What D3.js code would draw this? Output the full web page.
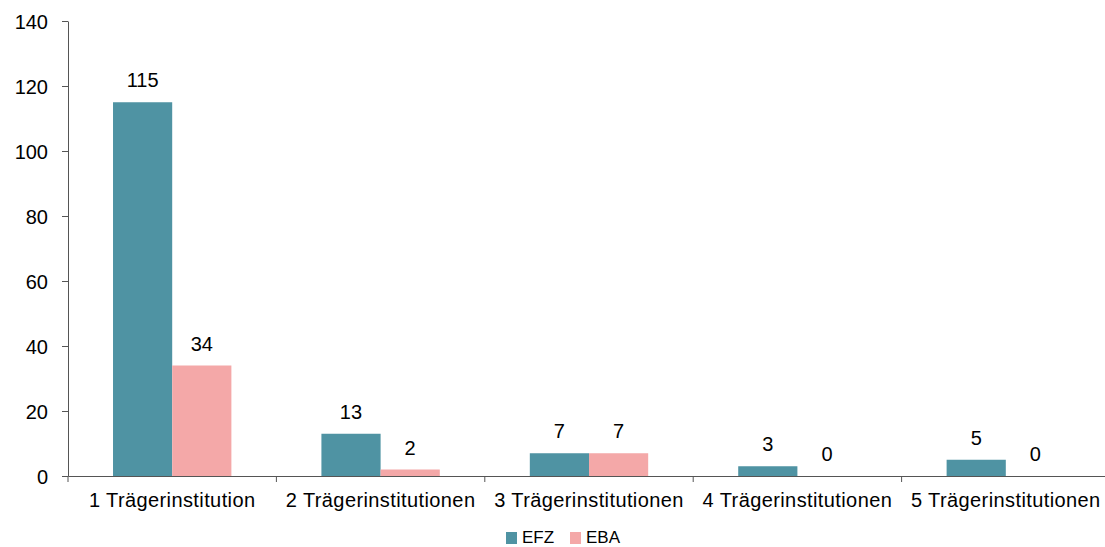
<!DOCTYPE html>
<html>
<head>
<meta charset="UTF-8" />
<script src="https://cdn.jsdelivr.net/npm/d3@7"></script>
<style>
  body { margin: 0; background: #fff; }
  text { font-family: "Liberation Sans", Arial, sans-serif; fill: #000; }
</style>
</head>
<body>
<div id="chart"></div>
<script>
const categories = ['1 Trägerinstitution', '2 Trägerinstitutionen', '3 Trägerinstitutionen', '4 Trägerinstitutionen', '5 Trägerinstitutionen'];
const seriesNames = ['EFZ', 'EBA'];
const efzValues = [115, 13, 7, 3, 5];
const ebaValues = [34, 2, 7, 0, 0];
const yTicks = [0, 20, 40, 60, 80, 100, 120, 140];
const colors = ['#4f93a3', '#f4a8a8'];

const w = 1105, h = 547;
const mLeft = 68, mRight = 1110, mTop = 21, mBottom = 476;

const svg = d3.select('#chart').append('svg')
  .attr('width', w).attr('height', h);

const x = d3.scaleBand().domain(categories).range([mLeft, mRight]).paddingInner(0).paddingOuter(0);
const xInner = d3.scaleBand().domain(seriesNames).range([x.bandwidth() * 0.216, x.bandwidth() * 0.784]);
const y = d3.scaleLinear().domain([0, 140]).range([mBottom, mTop]);

const rows = categories.map((c, i) => ({ cat: c, vals: [efzValues[i], ebaValues[i]] }));

// bars
const groups = svg.selectAll('g.cat').data(rows).enter().append('g')
  .attr('class', 'cat')
  .attr('transform', d => `translate(${x(d.cat)},0)`);

groups.selectAll('rect').data(d => d.vals.map((v, j) => ({ s: seriesNames[j], v, j })))
  .enter().append('rect')
  .attr('x', d => xInner(d.s))
  .attr('width', xInner.bandwidth())
  .attr('y', d => y(d.v))
  .attr('height', d => mBottom - y(d.v))
  .attr('fill', d => colors[d.j]);

groups.selectAll('text.val').data(d => d.vals.map((v, j) => ({ s: seriesNames[j], v })))
  .enter().append('text')
  .attr('class', 'val')
  .attr('x', d => xInner(d.s) + xInner.bandwidth() / 2)
  .attr('y', d => y(d.v) - 15)
  .attr('text-anchor', 'middle')
  .style('font-size', '20px')
  .text(d => d.v);

// y axis
const yAxis = svg.append('g')
  .attr('transform', `translate(${mLeft},0)`)
  .call(d3.axisLeft(y).tickValues(yTicks).tickSize(6).tickPadding(14).tickSizeOuter(0));
yAxis.selectAll('text').style('font-size', '20px').attr('dy', '0.35em');
yAxis.selectAll('line, path').attr('stroke', '#555');

// x axis
const xAxis = svg.append('g')
  .attr('transform', `translate(0,${mBottom})`)
  .call(d3.axisBottom(x).tickSize(0).tickPadding(17).tickSizeOuter(0));
xAxis.selectAll('text').style('font-size', '20px').style('letter-spacing', '0.4px');
xAxis.select('path').attr('stroke', '#555');
xAxis.selectAll('line.edge').data(categories.map(c => x(c)).concat([mRight]))
  .enter().append('line')
  .attr('class', 'edge')
  .attr('x1', d => d).attr('x2', d => d)
  .attr('y1', 0).attr('y2', 6)
  .attr('stroke', '#555');

// legend
const legend = svg.append('g').attr('transform', 'translate(506,531)');
const legendX = [0, 64];
seriesNames.forEach((s, i) => {
  legend.append('rect').attr('x', legendX[i]).attr('y', 1).attr('width', 11).attr('height', 12).attr('fill', colors[i]);
  legend.append('text').attr('x', legendX[i] + 16).attr('y', 12).style('font-size', '17px').text(s);
});
</script>
</body>
</html>
